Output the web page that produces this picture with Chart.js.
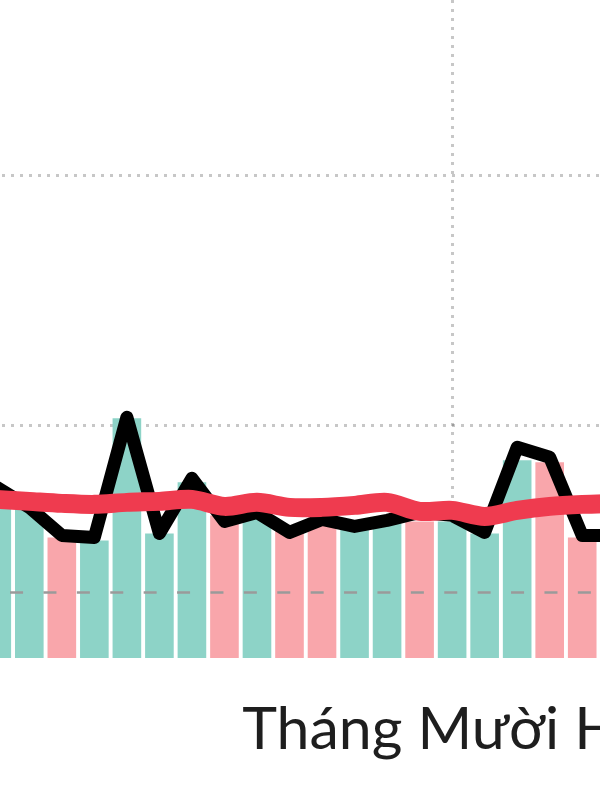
<!DOCTYPE html>
<html>
<head>
<meta charset="utf-8">
<script src="https://cdn.jsdelivr.net/npm/chart.js@4.4.1/dist/chart.umd.min.js"></script>
<style>
html,body{margin:0;padding:0;width:600px;height:800px;overflow:hidden;background:#fff;}
#wrap{position:absolute;left:-52px;top:0;width:683px;height:801px;}
</style>
</head>
<body>
<div id="wrap"><canvas id="c"></canvas></div>
<script>
// ---- data ----
const dates = ['2023-11-16','2023-11-17','2023-11-18','2023-11-19','2023-11-20','2023-11-21','2023-11-22',
  '2023-11-23','2023-11-24','2023-11-25','2023-11-26','2023-11-27','2023-11-28','2023-11-29',
  '2023-11-30','2023-12-01','2023-12-02','2023-12-03','2023-12-04','2023-12-05','2023-12-06'];
const monthLabels = { '2023-12-01': 'Tháng Mười Hai' };
const barValues = [6.9, 6.9, 6.8, 5.52, 5.4, 10.28, 5.68, 7.72, 6.4, 6.4, 5.88, 6.32, 6.0, 6.16, 6.16, 6.16, 5.68, 8.6, 8.52, 5.52, 5.6];
const barKind   = ['down','up','up','down','up','up','up','up','down','up','down','down','up','up','down','up','up','up','down','down','up'];
const dailyValues = [7.64, 7.52, 6.72, 5.6, 5.52, 10.32, 5.68, 7.88, 6.16, 6.52, 5.72, 6.24, 5.96, 6.2, 6.52, 6.4, 5.72, 9.12, 8.72, 5.6, 5.6];
const trendValues = [7.12, 7.04, 6.96, 6.88, 6.84, 6.92, 6.96, 7.04, 6.76, 6.92, 6.72, 6.72, 6.8, 6.92, 6.56, 6.6, 6.36, 6.6, 6.76, 6.84, 6.88];
const refValue = 3.32;
const yTicks = [10, 20];
const yMin = 0.7, yMax = 27;

// ---- styles ----
const UP = '#8dd3c7', DOWN = '#f9a6ab';
const gridCol = 'rgba(0,0,0,0.22)';

new Chart(document.getElementById('c'), {
  type: 'bar',
  data: {
    labels: dates,
    datasets: [
      {
        type: 'line', data: trendValues, borderColor: '#ef3b4f', borderWidth: 19,
        pointRadius: 0, tension: 0.3, order: 0, borderJoinStyle: 'round', borderCapStyle: 'round'
      },
      {
        type: 'line', data: dailyValues, borderColor: '#000', borderWidth: 13,
        pointRadius: 0, tension: 0, order: 1, borderJoinStyle: 'round', borderCapStyle: 'round'
      },
      {
        type: 'line', data: dates.map(() => refValue), borderColor: '#9a9a9a', borderWidth: 2.5,
        borderDash: [13, 20.4], borderDashOffset: 21, pointRadius: 0, order: 2
      },
      {
        type: 'bar', data: barValues,
        backgroundColor: barKind.map(k => k === 'up' ? UP : DOWN),
        categoryPercentage: 1, barPercentage: 0.88, order: 3
      }
    ]
  },
  options: {
    responsive: true, maintainAspectRatio: false, animation: false,
    layout: { padding: 0 },
    plugins: { legend: { display: false }, tooltip: { enabled: false }, title: { display: false } },
    scales: {
      x: {
        offset: true,
        grid: {
          offset: false, drawTicks: false, lineWidth: 3,
          color: c => (c.tick && monthLabels[dates[c.index]]) ? gridCol : 'rgba(0,0,0,0)'
        },
        border: { display: false, dash: [3, 6] },
        ticks: {
          autoSkip: false, maxRotation: 0, minRotation: 0, padding: 0,
          color: '#1e1e1e', font: { family: 'Lato', size: 59, lineHeight: 2.424 },
          callback: (v, i) => monthLabels[dates[i]] || ''
        }
      },
      y: {
        min: yMin, max: yMax,
        afterBuildTicks: s => { s.ticks = yTicks.filter(v => v >= s.min && v <= s.max).map(v => ({ value: v })); },
        grid: { drawTicks: false, lineWidth: 3, color: gridCol },
        border: { display: false, dash: [3, 6] },
        ticks: { display: false, padding: 0 }
      }
    }
  }
});
</script>
</body>
</html>
